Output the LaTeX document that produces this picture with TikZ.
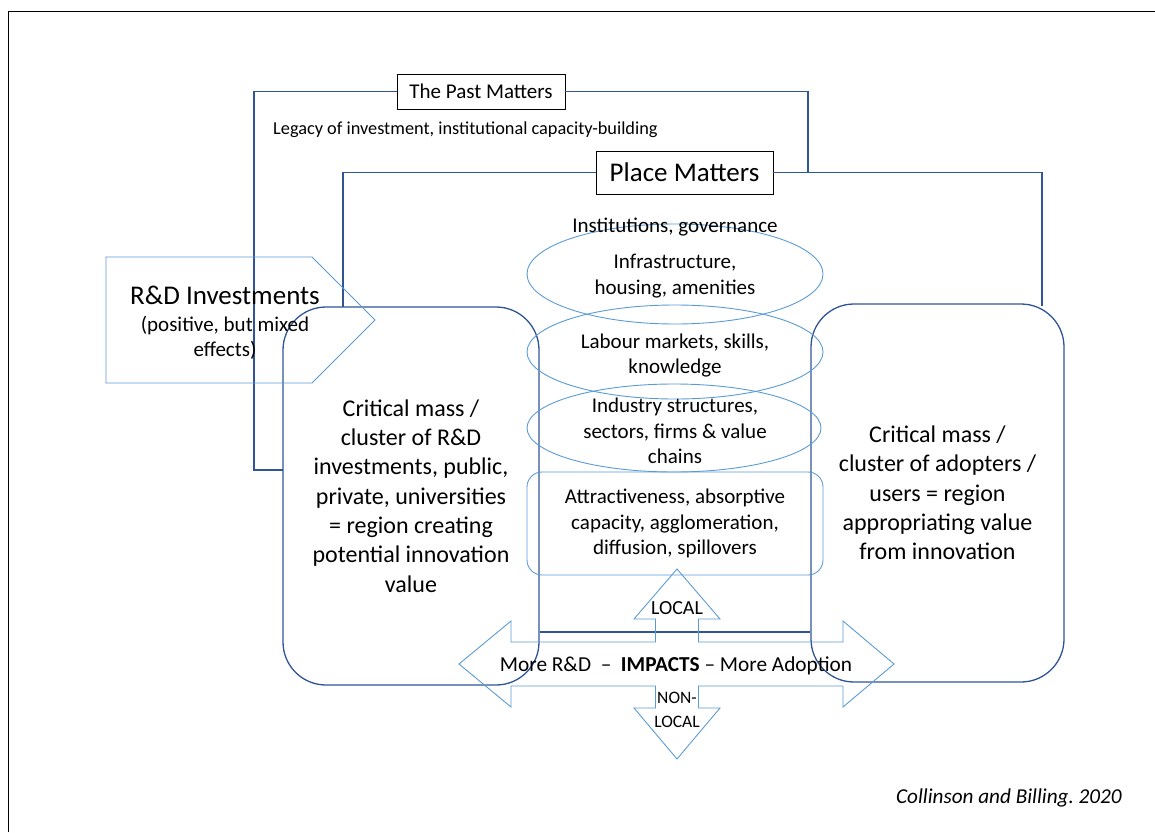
\documentclass[tikz,border=0pt]{standalone}
\usepackage{fontspec}
\setmainfont{Carlito}
\frenchspacing
\definecolor{dblue}{RGB}{47,85,151}
\definecolor{lblue}{RGB}{91,155,213}
\begin{document}
\begin{tikzpicture}[x=1pt,y=-1pt,
  dline/.style={draw=dblue, line width=1.3pt},
  lline/.style={draw=lblue, line width=0.9pt},
  txt/.style={inner sep=0pt, align=center, text=black},
  bigbox/.style={draw=dblue, line width=1.3pt, rounded corners=43pt, align=center, inner sep=0pt,
     font=\fontsize{24}{29.3}\selectfont},
  labelbox/.style={draw=black, line width=0.9pt, fill=white, inner sep=0pt},
  midtext/.style={txt, font=\fontsize{21}{25.5}\selectfont},
]
\useasboundingbox (0,0) rectangle (1155,832);
% outer frame (top and left edges visible)
\draw[black, line width=1pt] (8,832) -- (8,12) -- (1155,12);

% big rounded boxes
\node[bigbox, minimum width=256pt, minimum height=378pt] (leftbox) at (411,496)
  {Critical mass /\\cluster of R\&D\\investments, public,\\private, universities\\= region creating\\potential innovation\\value};
\node[bigbox, minimum width=253pt, minimum height=378pt] (rightbox) at (937.5,493)
  {Critical mass /\\cluster of adopters /\\users = region\\appropriating value\\from innovation};

% The Past Matters bracket
\node[labelbox, minimum width=168pt, minimum height=35pt, font=\fontsize{21}{25}\selectfont] (pastbox) at (481,91.5) {The Past Matters};
\coordinate (pa) at (283,470);
\coordinate (pb) at (254,470);
\coordinate (pc) at (254,91.5);
\coordinate (pd) at (808,91.5);
\coordinate (pe) at (808,172.5);
\draw[dline] (pa) -- (pb) -- (pc) -- (pastbox.west);
\draw[dline] (pastbox.east) -- (pd) -- (pe);
\node[txt, anchor=west, font=\fontsize{18.3}{22}\selectfont] (legacy) at (273,130) {Legacy of investment, institutional capacity-building};

% Place Matters bracket
\node[labelbox, minimum width=177pt, minimum height=43pt, font=\fontsize{27}{31}\selectfont] (placebox) at (684.5,172.5) {Place Matters};
\coordinate (qa) at (343,307);
\coordinate (qb) at (343,172.5);
\coordinate (qc) at (1042,172.5);
\coordinate (qd) at (1042,306);
\draw[dline] (qa) -- (qb) -- (placebox.west);
\draw[dline] (placebox.east) -- (qc) -- (qd);

% R&D Investments pentagon
\draw[lline] (106,257) -- (312,257) -- (375,320) -- (312,383) -- (106,383) -- cycle;
\node[txt, font=\fontsize{27}{31}\selectfont] (rdtitle) at (225,295.5) {R\&D Investments};
\node[txt, font=\fontsize{21}{25.3}\selectfont] (rdsub) at (225,338) {(positive, but mixed\\effects)};

% ellipses
\draw[lline] (675,274) ellipse [x radius=148pt, y radius=50pt];
\draw[lline] (675,352) ellipse [x radius=148pt, y radius=47pt];
\draw[lline] (674,428) ellipse [x radius=147pt, y radius=44pt];
\node[midtext] (inst) at (675,227) {Institutions, governance};
\node[midtext] (infra) at (675,276) {Infrastructure,\\housing, amenities};
\node[midtext] (labour) at (675,355.5) {Labour markets, skills,\\knowledge};
\node[midtext] (industry) at (675,431) {Industry structures,\\sectors, firms \& value\\chains};

% attractiveness box
\node[draw=lblue, line width=0.9pt, rounded corners=15pt, minimum width=296pt, minimum height=103pt,
  midtext] (attract) at (675,523.5) {Attractiveness, absorptive\\capacity, agglomeration,\\diffusion, spillovers};

% centre base line
\draw[dline] (leftbox.east |- 0,632) -- (rightbox.west |- 0,632);

% four-way arrow
\draw[lline] (459,664) -- (511,621) -- (511,642) -- (655.5,642) -- (655.5,619) -- (634,619) -- (677,569)
  -- (720,619) -- (698.5,619) -- (698.5,642) -- (843,642) -- (843,621) -- (894,664) -- (843,707)
  -- (843,686) -- (698.5,686) -- (698.5,708) -- (720,708) -- (677,759) -- (634,708) -- (655.5,708)
  -- (655.5,686) -- (511,686) -- (511,707) -- cycle;
\node[txt, font=\fontsize{21.3}{25}\selectfont] (impacts) at (676,666) {More R\&D\ \ –\ \ \textbf{IMPACTS} – More Adoption};
\node[txt, font=\fontsize{20}{24}\selectfont] (local) at (677,608) {LOCAL};
\node[txt, font=\fontsize{17.5}{24.5}\selectfont] (nonlocal) at (677,710) {NON-\\LOCAL};

% citation
\node[txt, anchor=base east, font=\itshape\fontsize{21.2}{25}\selectfont] (cite) at (1122,803) {Collinson and Billing. 2020};
\end{tikzpicture}
\end{document}
